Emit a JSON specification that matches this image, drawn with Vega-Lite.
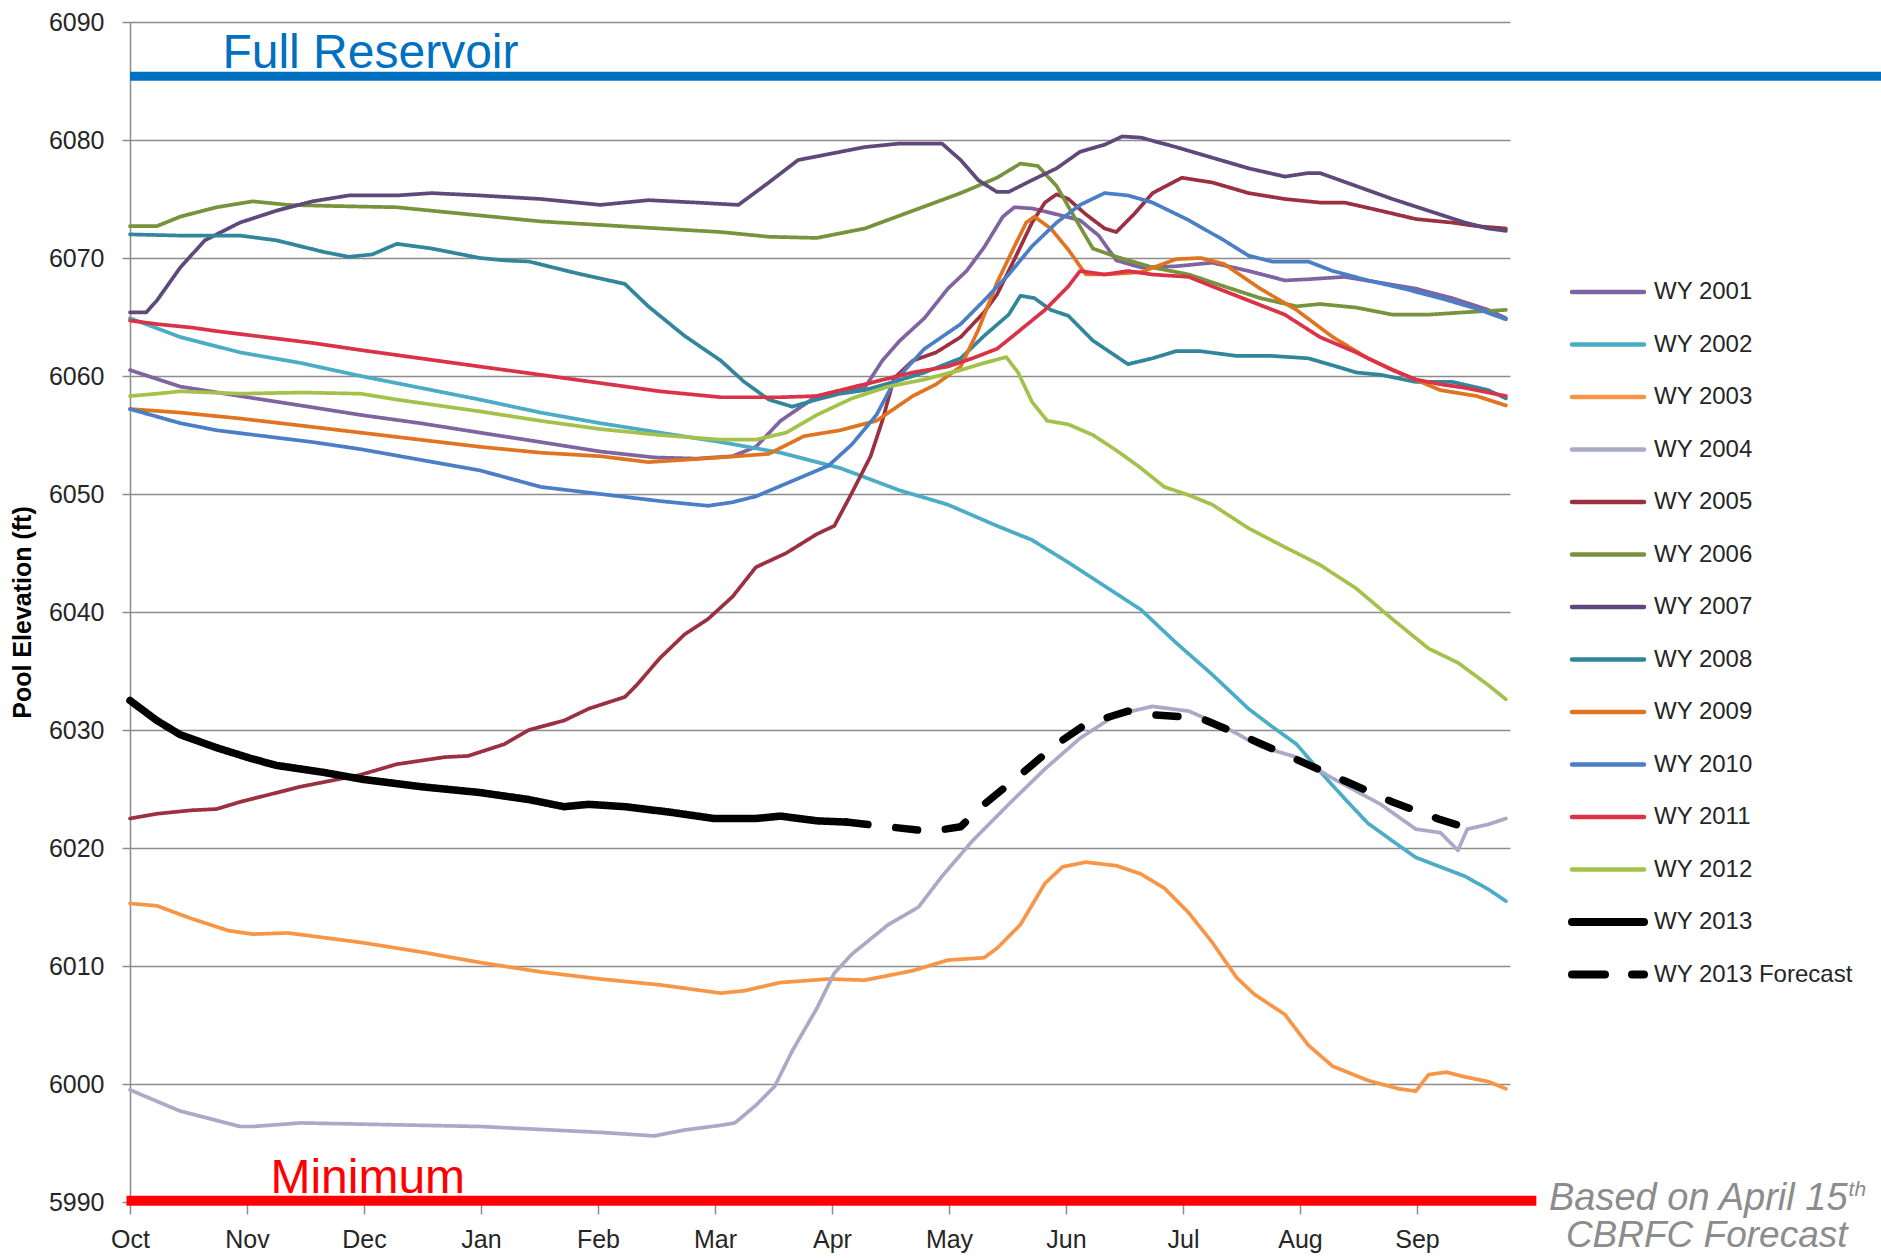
{
  "$schema": "https://vega.github.io/schema/vega-lite/v6.json",
  "width": 1380,
  "height": 1180,
  "autosize": {"type": "none"},
  "padding": {"left": 130, "top": 22, "right": 371, "bottom": 56},
  "background": "white",
  "config": {"view": {"stroke": null}, "font": "Liberation Sans"},
  "layer": [
    {
      "data": {"values": [{"label": "Full Reservoir", "elev": 6085.4}]},
      "mark": {"type": "rule", "color": "#0070C0", "strokeWidth": 9, "clip": false},
      "encoding": {
        "x": {"datum": 0, "type": "quantitative"},
        "x2": {"datum": 15.5},
        "y": {"field": "elev", "type": "quantitative"}
      }
    },
    {
      "data": {"values": [{"label": "Minimum", "elev": 5990.1}]},
      "mark": {"type": "rule", "color": "#FF0000", "strokeWidth": 10, "clip": false},
      "encoding": {
        "x": {"datum": -0.03, "type": "quantitative"},
        "x2": {"datum": 12.02},
        "y": {"field": "elev", "type": "quantitative"}
      }
    },
    {
      "data": {"values": [
    {"series":"WY 2001","month":0,"elev":6060.5},{"series":"WY 2001","month":0.43,"elev":6059.1},{"series":"WY 2001","month":0.94,"elev":6058.3},{"series":"WY 2001","month":1.46,"elev":6057.5},{"series":"WY 2001","month":1.97,"elev":6056.7},{"series":"WY 2001","month":2.48,"elev":6056},{"series":"WY 2001","month":2.99,"elev":6055.2},{"series":"WY 2001","month":3.51,"elev":6054.4},{"series":"WY 2001","month":4.02,"elev":6053.6},{"series":"WY 2001","month":4.48,"elev":6053.1},{"series":"WY 2001","month":4.84,"elev":6053},{"series":"WY 2001","month":5.15,"elev":6053.2},{"series":"WY 2001","month":5.35,"elev":6054},{"series":"WY 2001","month":5.56,"elev":6056.2},{"series":"WY 2001","month":5.87,"elev":6058.3},{"series":"WY 2001","month":6.07,"elev":6058.7},{"series":"WY 2001","month":6.28,"elev":6059},{"series":"WY 2001","month":6.43,"elev":6061.3},{"series":"WY 2001","month":6.58,"elev":6063},{"series":"WY 2001","month":6.79,"elev":6064.9},{"series":"WY 2001","month":6.99,"elev":6067.4},{"series":"WY 2001","month":7.15,"elev":6068.9},{"series":"WY 2001","month":7.3,"elev":6070.9},{"series":"WY 2001","month":7.46,"elev":6073.5},{"series":"WY 2001","month":7.56,"elev":6074.3},{"series":"WY 2001","month":7.71,"elev":6074.2},{"series":"WY 2001","month":7.92,"elev":6073.7},{"series":"WY 2001","month":8.12,"elev":6073.2},{"series":"WY 2001","month":8.28,"elev":6071.9},{"series":"WY 2001","month":8.43,"elev":6069.8},{"series":"WY 2001","month":8.64,"elev":6069.2},{"series":"WY 2001","month":8.94,"elev":6069.3},{"series":"WY 2001","month":9.25,"elev":6069.6},{"series":"WY 2001","month":9.56,"elev":6068.9},{"series":"WY 2001","month":9.87,"elev":6068.1},{"series":"WY 2001","month":10.07,"elev":6068.2},{"series":"WY 2001","month":10.38,"elev":6068.4},{"series":"WY 2001","month":10.69,"elev":6067.9},{"series":"WY 2001","month":10.99,"elev":6067.4},{"series":"WY 2001","month":11.3,"elev":6066.6},{"series":"WY 2001","month":11.61,"elev":6065.6},{"series":"WY 2001","month":11.76,"elev":6064.9},

    {"series":"WY 2002","month":0,"elev":6064.9},{"series":"WY 2002","month":0.43,"elev":6063.3},{"series":"WY 2002","month":0.94,"elev":6062},{"series":"WY 2002","month":1.46,"elev":6061.1},{"series":"WY 2002","month":1.97,"elev":6060},{"series":"WY 2002","month":2.48,"elev":6059},{"series":"WY 2002","month":2.99,"elev":6058},{"series":"WY 2002","month":3.51,"elev":6056.9},{"series":"WY 2002","month":4.02,"elev":6056},{"series":"WY 2002","month":4.53,"elev":6055.2},{"series":"WY 2002","month":5.05,"elev":6054.4},{"series":"WY 2002","month":5.56,"elev":6053.5},{"series":"WY 2002","month":6.07,"elev":6052.2},{"series":"WY 2002","month":6.58,"elev":6050.3},{"series":"WY 2002","month":6.99,"elev":6049.1},{"series":"WY 2002","month":7.41,"elev":6047.3},{"series":"WY 2002","month":7.71,"elev":6046.1},{"series":"WY 2002","month":8.02,"elev":6044.2},{"series":"WY 2002","month":8.33,"elev":6042.2},{"series":"WY 2002","month":8.64,"elev":6040.2},{"series":"WY 2002","month":8.94,"elev":6037.4},{"series":"WY 2002","month":9.25,"elev":6034.7},{"series":"WY 2002","month":9.56,"elev":6031.8},{"series":"WY 2002","month":9.76,"elev":6030.3},{"series":"WY 2002","month":9.97,"elev":6028.8},{"series":"WY 2002","month":10.17,"elev":6026.5},{"series":"WY 2002","month":10.38,"elev":6024.2},{"series":"WY 2002","month":10.58,"elev":6022.1},{"series":"WY 2002","month":10.79,"elev":6020.6},{"series":"WY 2002","month":10.99,"elev":6019.2},{"series":"WY 2002","month":11.2,"elev":6018.4},{"series":"WY 2002","month":11.41,"elev":6017.6},{"series":"WY 2002","month":11.61,"elev":6016.5},{"series":"WY 2002","month":11.76,"elev":6015.5},

    {"series":"WY 2003","month":0,"elev":6015.3},{"series":"WY 2003","month":0.23,"elev":6015.1},{"series":"WY 2003","month":0.53,"elev":6014},{"series":"WY 2003","month":0.84,"elev":6013},{"series":"WY 2003","month":1.05,"elev":6012.7},{"series":"WY 2003","month":1.35,"elev":6012.8},{"series":"WY 2003","month":1.66,"elev":6012.4},{"series":"WY 2003","month":1.97,"elev":6012},{"series":"WY 2003","month":2.48,"elev":6011.2},{"series":"WY 2003","month":2.99,"elev":6010.3},{"series":"WY 2003","month":3.51,"elev":6009.5},{"series":"WY 2003","month":4.02,"elev":6008.9},{"series":"WY 2003","month":4.53,"elev":6008.4},{"series":"WY 2003","month":5.05,"elev":6007.7},{"series":"WY 2003","month":5.25,"elev":6007.9},{"series":"WY 2003","month":5.56,"elev":6008.6},{"series":"WY 2003","month":5.97,"elev":6008.9},{"series":"WY 2003","month":6.28,"elev":6008.8},{"series":"WY 2003","month":6.69,"elev":6009.6},{"series":"WY 2003","month":6.99,"elev":6010.5},{"series":"WY 2003","month":7.3,"elev":6010.7},{"series":"WY 2003","month":7.41,"elev":6011.5},{"series":"WY 2003","month":7.61,"elev":6013.5},{"series":"WY 2003","month":7.82,"elev":6017},{"series":"WY 2003","month":7.97,"elev":6018.4},{"series":"WY 2003","month":8.17,"elev":6018.8},{"series":"WY 2003","month":8.43,"elev":6018.5},{"series":"WY 2003","month":8.64,"elev":6017.8},{"series":"WY 2003","month":8.84,"elev":6016.6},{"series":"WY 2003","month":9.05,"elev":6014.5},{"series":"WY 2003","month":9.25,"elev":6012},{"series":"WY 2003","month":9.46,"elev":6009},{"series":"WY 2003","month":9.61,"elev":6007.6},{"series":"WY 2003","month":9.87,"elev":6005.9},{"series":"WY 2003","month":10.07,"elev":6003.3},{"series":"WY 2003","month":10.28,"elev":6001.5},{"series":"WY 2003","month":10.58,"elev":6000.3},{"series":"WY 2003","month":10.84,"elev":5999.6},{"series":"WY 2003","month":10.99,"elev":5999.4},{"series":"WY 2003","month":11.1,"elev":6000.8},{"series":"WY 2003","month":11.25,"elev":6001},{"series":"WY 2003","month":11.41,"elev":6000.6},{"series":"WY 2003","month":11.61,"elev":6000.2},{"series":"WY 2003","month":11.76,"elev":5999.6},

    {"series":"WY 2004","month":0,"elev":5999.5},{"series":"WY 2004","month":0.43,"elev":5997.7},{"series":"WY 2004","month":0.94,"elev":5996.4},{"series":"WY 2004","month":1.05,"elev":5996.4},{"series":"WY 2004","month":1.46,"elev":5996.7},{"series":"WY 2004","month":1.97,"elev":5996.6},{"series":"WY 2004","month":2.99,"elev":5996.4},{"series":"WY 2004","month":4.02,"elev":5995.9},{"series":"WY 2004","month":4.48,"elev":5995.6},{"series":"WY 2004","month":4.74,"elev":5996.1},{"series":"WY 2004","month":5.05,"elev":5996.5},{"series":"WY 2004","month":5.17,"elev":5996.7},{"series":"WY 2004","month":5.35,"elev":5998.2},{"series":"WY 2004","month":5.51,"elev":5999.8},{"series":"WY 2004","month":5.66,"elev":6002.8},{"series":"WY 2004","month":5.87,"elev":6006.4},{"series":"WY 2004","month":6.02,"elev":6009.4},{"series":"WY 2004","month":6.17,"elev":6011},{"series":"WY 2004","month":6.48,"elev":6013.5},{"series":"WY 2004","month":6.74,"elev":6015},{"series":"WY 2004","month":6.94,"elev":6017.6},{"series":"WY 2004","month":7.2,"elev":6020.6},{"series":"WY 2004","month":7.51,"elev":6023.7},{"series":"WY 2004","month":7.82,"elev":6026.7},{"series":"WY 2004","month":8.12,"elev":6029.3},{"series":"WY 2004","month":8.43,"elev":6031.3},{"series":"WY 2004","month":8.74,"elev":6032},{"series":"WY 2004","month":9.05,"elev":6031.6},{"series":"WY 2004","month":9.35,"elev":6030.3},{"series":"WY 2004","month":9.66,"elev":6028.6},{"series":"WY 2004","month":9.97,"elev":6027.7},{"series":"WY 2004","month":10.28,"elev":6025.9},{"series":"WY 2004","month":10.69,"elev":6023.7},{"series":"WY 2004","month":10.99,"elev":6021.6},{"series":"WY 2004","month":11.2,"elev":6021.3},{"series":"WY 2004","month":11.35,"elev":6019.8},{"series":"WY 2004","month":11.43,"elev":6021.6},{"series":"WY 2004","month":11.61,"elev":6022},{"series":"WY 2004","month":11.76,"elev":6022.5},

    {"series":"WY 2005","month":0,"elev":6022.5},{"series":"WY 2005","month":0.23,"elev":6022.9},{"series":"WY 2005","month":0.53,"elev":6023.2},{"series":"WY 2005","month":0.74,"elev":6023.3},{"series":"WY 2005","month":0.94,"elev":6023.9},{"series":"WY 2005","month":1.46,"elev":6025.2},{"series":"WY 2005","month":1.97,"elev":6026.2},{"series":"WY 2005","month":2.28,"elev":6027.1},{"series":"WY 2005","month":2.69,"elev":6027.7},{"series":"WY 2005","month":2.89,"elev":6027.8},{"series":"WY 2005","month":3.2,"elev":6028.8},{"series":"WY 2005","month":3.41,"elev":6030},{"series":"WY 2005","month":3.71,"elev":6030.8},{"series":"WY 2005","month":3.92,"elev":6031.8},{"series":"WY 2005","month":4.23,"elev":6032.8},{"series":"WY 2005","month":4.33,"elev":6033.8},{"series":"WY 2005","month":4.53,"elev":6036.1},{"series":"WY 2005","month":4.74,"elev":6038.1},{"series":"WY 2005","month":4.94,"elev":6039.4},{"series":"WY 2005","month":5.15,"elev":6041.3},{"series":"WY 2005","month":5.35,"elev":6043.8},{"series":"WY 2005","month":5.61,"elev":6045},{"series":"WY 2005","month":5.87,"elev":6046.6},{"series":"WY 2005","month":6.02,"elev":6047.3},{"series":"WY 2005","month":6.17,"elev":6050.1},{"series":"WY 2005","month":6.33,"elev":6053.2},{"series":"WY 2005","month":6.43,"elev":6056.2},{"series":"WY 2005","month":6.53,"elev":6059.8},{"series":"WY 2005","month":6.69,"elev":6061.3},{"series":"WY 2005","month":6.89,"elev":6062},{"series":"WY 2005","month":7.1,"elev":6063.3},{"series":"WY 2005","month":7.3,"elev":6065.4},{"series":"WY 2005","month":7.41,"elev":6066.9},{"series":"WY 2005","month":7.56,"elev":6069.9},{"series":"WY 2005","month":7.71,"elev":6073},{"series":"WY 2005","month":7.82,"elev":6074.7},{"series":"WY 2005","month":7.92,"elev":6075.4},{"series":"WY 2005","month":8.02,"elev":6075},{"series":"WY 2005","month":8.17,"elev":6073.7},{"series":"WY 2005","month":8.33,"elev":6072.5},{"series":"WY 2005","month":8.43,"elev":6072.2},{"series":"WY 2005","month":8.58,"elev":6073.7},{"series":"WY 2005","month":8.74,"elev":6075.5},{"series":"WY 2005","month":8.99,"elev":6076.8},{"series":"WY 2005","month":9.25,"elev":6076.4},{"series":"WY 2005","month":9.56,"elev":6075.5},{"series":"WY 2005","month":9.87,"elev":6075},{"series":"WY 2005","month":10.17,"elev":6074.7},{"series":"WY 2005","month":10.38,"elev":6074.7},{"series":"WY 2005","month":10.69,"elev":6074},{"series":"WY 2005","month":10.99,"elev":6073.3},{"series":"WY 2005","month":11.3,"elev":6073},{"series":"WY 2005","month":11.51,"elev":6072.7},{"series":"WY 2005","month":11.76,"elev":6072.5},

    {"series":"WY 2006","month":0,"elev":6072.7},{"series":"WY 2006","month":0.23,"elev":6072.7},{"series":"WY 2006","month":0.43,"elev":6073.5},{"series":"WY 2006","month":0.74,"elev":6074.3},{"series":"WY 2006","month":1.05,"elev":6074.8},{"series":"WY 2006","month":1.35,"elev":6074.5},{"series":"WY 2006","month":1.76,"elev":6074.4},{"series":"WY 2006","month":2.28,"elev":6074.3},{"series":"WY 2006","month":2.79,"elev":6073.8},{"series":"WY 2006","month":3.51,"elev":6073.1},{"series":"WY 2006","month":4.02,"elev":6072.8},{"series":"WY 2006","month":4.53,"elev":6072.5},{"series":"WY 2006","month":5.05,"elev":6072.2},{"series":"WY 2006","month":5.46,"elev":6071.8},{"series":"WY 2006","month":5.87,"elev":6071.7},{"series":"WY 2006","month":6.28,"elev":6072.5},{"series":"WY 2006","month":6.69,"elev":6074},{"series":"WY 2006","month":7.1,"elev":6075.5},{"series":"WY 2006","month":7.41,"elev":6076.8},{"series":"WY 2006","month":7.61,"elev":6078},{"series":"WY 2006","month":7.76,"elev":6077.8},{"series":"WY 2006","month":7.92,"elev":6076.1},{"series":"WY 2006","month":8.07,"elev":6073.5},{"series":"WY 2006","month":8.23,"elev":6070.8},{"series":"WY 2006","month":8.43,"elev":6070.1},{"series":"WY 2006","month":8.74,"elev":6069.2},{"series":"WY 2006","month":9.05,"elev":6068.6},{"series":"WY 2006","month":9.35,"elev":6067.6},{"series":"WY 2006","month":9.66,"elev":6066.6},{"series":"WY 2006","month":9.97,"elev":6065.9},{"series":"WY 2006","month":10.17,"elev":6066.1},{"series":"WY 2006","month":10.48,"elev":6065.8},{"series":"WY 2006","month":10.79,"elev":6065.2},{"series":"WY 2006","month":11.1,"elev":6065.2},{"series":"WY 2006","month":11.41,"elev":6065.4},{"series":"WY 2006","month":11.76,"elev":6065.6},

    {"series":"WY 2007","month":0,"elev":6065.4},{"series":"WY 2007","month":0.14,"elev":6065.4},{"series":"WY 2007","month":0.23,"elev":6066.4},{"series":"WY 2007","month":0.43,"elev":6069.2},{"series":"WY 2007","month":0.64,"elev":6071.5},{"series":"WY 2007","month":0.94,"elev":6073},{"series":"WY 2007","month":1.25,"elev":6074},{"series":"WY 2007","month":1.56,"elev":6074.8},{"series":"WY 2007","month":1.87,"elev":6075.3},{"series":"WY 2007","month":2.28,"elev":6075.3},{"series":"WY 2007","month":2.58,"elev":6075.5},{"series":"WY 2007","month":2.99,"elev":6075.3},{"series":"WY 2007","month":3.51,"elev":6075},{"series":"WY 2007","month":4.02,"elev":6074.5},{"series":"WY 2007","month":4.43,"elev":6074.9},{"series":"WY 2007","month":4.84,"elev":6074.7},{"series":"WY 2007","month":5.2,"elev":6074.5},{"series":"WY 2007","month":5.46,"elev":6076.4},{"series":"WY 2007","month":5.71,"elev":6078.3},{"series":"WY 2007","month":5.97,"elev":6078.8},{"series":"WY 2007","month":6.28,"elev":6079.4},{"series":"WY 2007","month":6.58,"elev":6079.7},{"series":"WY 2007","month":6.94,"elev":6079.7},{"series":"WY 2007","month":7.1,"elev":6078.3},{"series":"WY 2007","month":7.25,"elev":6076.6},{"series":"WY 2007","month":7.41,"elev":6075.6},{"series":"WY 2007","month":7.51,"elev":6075.6},{"series":"WY 2007","month":7.71,"elev":6076.6},{"series":"WY 2007","month":7.92,"elev":6077.6},{"series":"WY 2007","month":8.12,"elev":6079},{"series":"WY 2007","month":8.33,"elev":6079.6},{"series":"WY 2007","month":8.48,"elev":6080.3},{"series":"WY 2007","month":8.64,"elev":6080.2},{"series":"WY 2007","month":8.94,"elev":6079.4},{"series":"WY 2007","month":9.25,"elev":6078.5},{"series":"WY 2007","month":9.56,"elev":6077.6},{"series":"WY 2007","month":9.87,"elev":6076.9},{"series":"WY 2007","month":10.07,"elev":6077.2},{"series":"WY 2007","month":10.17,"elev":6077.2},{"series":"WY 2007","month":10.48,"elev":6076.1},{"series":"WY 2007","month":10.79,"elev":6075},{"series":"WY 2007","month":11.1,"elev":6074},{"series":"WY 2007","month":11.41,"elev":6073},{"series":"WY 2007","month":11.61,"elev":6072.5},{"series":"WY 2007","month":11.76,"elev":6072.3},

    {"series":"WY 2008","month":0,"elev":6072},{"series":"WY 2008","month":0.43,"elev":6071.9},{"series":"WY 2008","month":0.94,"elev":6071.9},{"series":"WY 2008","month":1.25,"elev":6071.5},{"series":"WY 2008","month":1.66,"elev":6070.5},{"series":"WY 2008","month":1.87,"elev":6070.1},{"series":"WY 2008","month":2.07,"elev":6070.3},{"series":"WY 2008","month":2.28,"elev":6071.2},{"series":"WY 2008","month":2.58,"elev":6070.8},{"series":"WY 2008","month":2.99,"elev":6070},{"series":"WY 2008","month":3.2,"elev":6069.8},{"series":"WY 2008","month":3.41,"elev":6069.7},{"series":"WY 2008","month":3.82,"elev":6068.7},{"series":"WY 2008","month":4.23,"elev":6067.8},{"series":"WY 2008","month":4.43,"elev":6065.9},{"series":"WY 2008","month":4.74,"elev":6063.4},{"series":"WY 2008","month":5.05,"elev":6061.3},{"series":"WY 2008","month":5.25,"elev":6059.5},{"series":"WY 2008","month":5.46,"elev":6058},{"series":"WY 2008","month":5.66,"elev":6057.4},{"series":"WY 2008","month":5.87,"elev":6058},{"series":"WY 2008","month":6.07,"elev":6058.5},{"series":"WY 2008","month":6.28,"elev":6058.8},{"series":"WY 2008","month":6.53,"elev":6059.5},{"series":"WY 2008","month":6.79,"elev":6060.3},{"series":"WY 2008","month":7.1,"elev":6061.5},{"series":"WY 2008","month":7.3,"elev":6063.4},{"series":"WY 2008","month":7.51,"elev":6065.2},{"series":"WY 2008","month":7.61,"elev":6066.8},{"series":"WY 2008","month":7.73,"elev":6066.6},{"series":"WY 2008","month":7.87,"elev":6065.6},{"series":"WY 2008","month":8.02,"elev":6065.1},{"series":"WY 2008","month":8.23,"elev":6063},{"series":"WY 2008","month":8.53,"elev":6061},{"series":"WY 2008","month":8.74,"elev":6061.5},{"series":"WY 2008","month":8.94,"elev":6062.1},{"series":"WY 2008","month":9.15,"elev":6062.1},{"series":"WY 2008","month":9.46,"elev":6061.7},{"series":"WY 2008","month":9.76,"elev":6061.7},{"series":"WY 2008","month":10.07,"elev":6061.5},{"series":"WY 2008","month":10.28,"elev":6060.9},{"series":"WY 2008","month":10.48,"elev":6060.3},{"series":"WY 2008","month":10.69,"elev":6060.1},{"series":"WY 2008","month":10.99,"elev":6059.5},{"series":"WY 2008","month":11.3,"elev":6059.5},{"series":"WY 2008","month":11.61,"elev":6058.8},{"series":"WY 2008","month":11.76,"elev":6058.1},

    {"series":"WY 2009","month":0,"elev":6057.2},{"series":"WY 2009","month":0.43,"elev":6056.9},{"series":"WY 2009","month":0.94,"elev":6056.4},{"series":"WY 2009","month":1.46,"elev":6055.8},{"series":"WY 2009","month":1.97,"elev":6055.2},{"series":"WY 2009","month":2.48,"elev":6054.6},{"series":"WY 2009","month":2.99,"elev":6054},{"series":"WY 2009","month":3.51,"elev":6053.5},{"series":"WY 2009","month":4.02,"elev":6053.2},{"series":"WY 2009","month":4.43,"elev":6052.7},{"series":"WY 2009","month":4.74,"elev":6052.9},{"series":"WY 2009","month":5.05,"elev":6053.1},{"series":"WY 2009","month":5.46,"elev":6053.4},{"series":"WY 2009","month":5.76,"elev":6054.9},{"series":"WY 2009","month":6.07,"elev":6055.4},{"series":"WY 2009","month":6.38,"elev":6056.2},{"series":"WY 2009","month":6.69,"elev":6058.3},{"series":"WY 2009","month":6.89,"elev":6059.3},{"series":"WY 2009","month":7.1,"elev":6060.8},{"series":"WY 2009","month":7.25,"elev":6063.9},{"series":"WY 2009","month":7.41,"elev":6067.9},{"series":"WY 2009","month":7.56,"elev":6071},{"series":"WY 2009","month":7.66,"elev":6073},{"series":"WY 2009","month":7.73,"elev":6073.5},{"series":"WY 2009","month":7.87,"elev":6072.5},{"series":"WY 2009","month":8.02,"elev":6070.7},{"series":"WY 2009","month":8.17,"elev":6068.6},{"series":"WY 2009","month":8.33,"elev":6068.6},{"series":"WY 2009","month":8.64,"elev":6068.8},{"series":"WY 2009","month":8.94,"elev":6069.9},{"series":"WY 2009","month":9.15,"elev":6070},{"series":"WY 2009","month":9.35,"elev":6069.5},{"series":"WY 2009","month":9.66,"elev":6067.4},{"series":"WY 2009","month":9.97,"elev":6065.6},{"series":"WY 2009","month":10.28,"elev":6063.3},{"series":"WY 2009","month":10.58,"elev":6061.5},{"series":"WY 2009","month":10.89,"elev":6060.1},{"series":"WY 2009","month":11.2,"elev":6058.8},{"series":"WY 2009","month":11.51,"elev":6058.3},{"series":"WY 2009","month":11.76,"elev":6057.5},

    {"series":"WY 2010","month":0,"elev":6057.2},{"series":"WY 2010","month":0.43,"elev":6056},{"series":"WY 2010","month":0.74,"elev":6055.4},{"series":"WY 2010","month":1.15,"elev":6054.9},{"series":"WY 2010","month":1.56,"elev":6054.4},{"series":"WY 2010","month":1.97,"elev":6053.8},{"series":"WY 2010","month":2.48,"elev":6052.9},{"series":"WY 2010","month":2.99,"elev":6052},{"series":"WY 2010","month":3.51,"elev":6050.6},{"series":"WY 2010","month":4.02,"elev":6050},{"series":"WY 2010","month":4.53,"elev":6049.4},{"series":"WY 2010","month":4.94,"elev":6049},{"series":"WY 2010","month":5.15,"elev":6049.3},{"series":"WY 2010","month":5.35,"elev":6049.8},{"series":"WY 2010","month":5.66,"elev":6051.1},{"series":"WY 2010","month":5.97,"elev":6052.4},{"series":"WY 2010","month":6.17,"elev":6054.2},{"series":"WY 2010","month":6.38,"elev":6056.7},{"series":"WY 2010","month":6.53,"elev":6059.5},{"series":"WY 2010","month":6.79,"elev":6062.3},{"series":"WY 2010","month":7.1,"elev":6064.4},{"series":"WY 2010","month":7.3,"elev":6066.4},{"series":"WY 2010","month":7.51,"elev":6068.6},{"series":"WY 2010","month":7.71,"elev":6071},{"series":"WY 2010","month":7.92,"elev":6073},{"series":"WY 2010","month":8.12,"elev":6074.5},{"series":"WY 2010","month":8.33,"elev":6075.5},{"series":"WY 2010","month":8.53,"elev":6075.3},{"series":"WY 2010","month":8.74,"elev":6074.7},{"series":"WY 2010","month":9.05,"elev":6073.2},{"series":"WY 2010","month":9.35,"elev":6071.5},{"series":"WY 2010","month":9.56,"elev":6070.2},{"series":"WY 2010","month":9.76,"elev":6069.7},{"series":"WY 2010","month":10.07,"elev":6069.7},{"series":"WY 2010","month":10.28,"elev":6068.9},{"series":"WY 2010","month":10.58,"elev":6068.1},{"series":"WY 2010","month":10.89,"elev":6067.4},{"series":"WY 2010","month":11.2,"elev":6066.6},{"series":"WY 2010","month":11.51,"elev":6065.7},{"series":"WY 2010","month":11.76,"elev":6064.8},

    {"series":"WY 2011","month":0,"elev":6064.7},{"series":"WY 2011","month":0.23,"elev":6064.4},{"series":"WY 2011","month":0.53,"elev":6064.1},{"series":"WY 2011","month":0.74,"elev":6063.8},{"series":"WY 2011","month":1.15,"elev":6063.3},{"series":"WY 2011","month":1.56,"elev":6062.8},{"series":"WY 2011","month":1.97,"elev":6062.2},{"series":"WY 2011","month":2.48,"elev":6061.5},{"series":"WY 2011","month":2.99,"elev":6060.8},{"series":"WY 2011","month":3.51,"elev":6060.1},{"series":"WY 2011","month":4.02,"elev":6059.4},{"series":"WY 2011","month":4.53,"elev":6058.7},{"series":"WY 2011","month":5.05,"elev":6058.2},{"series":"WY 2011","month":5.56,"elev":6058.2},{"series":"WY 2011","month":5.87,"elev":6058.3},{"series":"WY 2011","month":6.28,"elev":6059.3},{"series":"WY 2011","month":6.69,"elev":6060.3},{"series":"WY 2011","month":6.99,"elev":6060.8},{"series":"WY 2011","month":7.2,"elev":6061.5},{"series":"WY 2011","month":7.41,"elev":6062.3},{"series":"WY 2011","month":7.61,"elev":6063.9},{"series":"WY 2011","month":7.82,"elev":6065.6},{"series":"WY 2011","month":8.02,"elev":6067.6},{"series":"WY 2011","month":8.12,"elev":6068.9},{"series":"WY 2011","month":8.33,"elev":6068.6},{"series":"WY 2011","month":8.53,"elev":6068.9},{"series":"WY 2011","month":8.74,"elev":6068.6},{"series":"WY 2011","month":9.05,"elev":6068.4},{"series":"WY 2011","month":9.25,"elev":6067.6},{"series":"WY 2011","month":9.56,"elev":6066.4},{"series":"WY 2011","month":9.87,"elev":6065.2},{"series":"WY 2011","month":10.17,"elev":6063.3},{"series":"WY 2011","month":10.48,"elev":6062},{"series":"WY 2011","month":10.79,"elev":6060.5},{"series":"WY 2011","month":10.99,"elev":6059.7},{"series":"WY 2011","month":11.2,"elev":6059.3},{"series":"WY 2011","month":11.41,"elev":6059},{"series":"WY 2011","month":11.76,"elev":6058.3},

    {"series":"WY 2012","month":0,"elev":6058.3},{"series":"WY 2012","month":0.23,"elev":6058.5},{"series":"WY 2012","month":0.43,"elev":6058.7},{"series":"WY 2012","month":0.94,"elev":6058.5},{"series":"WY 2012","month":1.46,"elev":6058.6},{"series":"WY 2012","month":1.97,"elev":6058.5},{"series":"WY 2012","month":2.28,"elev":6058},{"series":"WY 2012","month":2.99,"elev":6057},{"series":"WY 2012","month":3.51,"elev":6056.2},{"series":"WY 2012","month":4.02,"elev":6055.5},{"series":"WY 2012","month":4.53,"elev":6055},{"series":"WY 2012","month":5.05,"elev":6054.6},{"series":"WY 2012","month":5.35,"elev":6054.6},{"series":"WY 2012","month":5.61,"elev":6055.2},{"series":"WY 2012","month":5.87,"elev":6056.7},{"series":"WY 2012","month":6.17,"elev":6058.1},{"series":"WY 2012","month":6.48,"elev":6059.1},{"series":"WY 2012","month":6.79,"elev":6059.7},{"series":"WY 2012","month":7.1,"elev":6060.5},{"series":"WY 2012","month":7.3,"elev":6061.1},{"series":"WY 2012","month":7.49,"elev":6061.6},{"series":"WY 2012","month":7.59,"elev":6060.3},{"series":"WY 2012","month":7.71,"elev":6057.8},{"series":"WY 2012","month":7.84,"elev":6056.2},{"series":"WY 2012","month":8.02,"elev":6055.9},{"series":"WY 2012","month":8.23,"elev":6055},{"series":"WY 2012","month":8.43,"elev":6053.7},{"series":"WY 2012","month":8.64,"elev":6052.2},{"series":"WY 2012","month":8.84,"elev":6050.6},{"series":"WY 2012","month":9.05,"elev":6049.9},{"series":"WY 2012","month":9.25,"elev":6049.1},{"series":"WY 2012","month":9.56,"elev":6047.1},{"series":"WY 2012","month":9.87,"elev":6045.5},{"series":"WY 2012","month":10.17,"elev":6044},{"series":"WY 2012","month":10.48,"elev":6042},{"series":"WY 2012","month":10.79,"elev":6039.4},{"series":"WY 2012","month":11.1,"elev":6036.9},{"series":"WY 2012","month":11.35,"elev":6035.7},{"series":"WY 2012","month":11.61,"elev":6033.8},{"series":"WY 2012","month":11.76,"elev":6032.6},

    {"series":"WY 2013","month":0,"elev":6032.5},{"series":"WY 2013","month":0.23,"elev":6030.8},{"series":"WY 2013","month":0.43,"elev":6029.6},{"series":"WY 2013","month":0.74,"elev":6028.5},{"series":"WY 2013","month":1.03,"elev":6027.6},{"series":"WY 2013","month":1.25,"elev":6027},{"series":"WY 2013","month":1.66,"elev":6026.4},{"series":"WY 2013","month":2.0,"elev":6025.8},{"series":"WY 2013","month":2.48,"elev":6025.2},{"series":"WY 2013","month":2.99,"elev":6024.7},{"series":"WY 2013","month":3.41,"elev":6024.1},{"series":"WY 2013","month":3.71,"elev":6023.5},{"series":"WY 2013","month":3.92,"elev":6023.7},{"series":"WY 2013","month":4.23,"elev":6023.5},{"series":"WY 2013","month":4.64,"elev":6023},{"series":"WY 2013","month":4.99,"elev":6022.5},{"series":"WY 2013","month":5.35,"elev":6022.5},{"series":"WY 2013","month":5.56,"elev":6022.7},{"series":"WY 2013","month":5.87,"elev":6022.3},{"series":"WY 2013","month":6.12,"elev":6022.2},

    {"series":"WY 2013 Forecast","month":6.12,"elev":6022.2},{"series":"WY 2013 Forecast","month":6.48,"elev":6021.8},{"series":"WY 2013 Forecast","month":6.84,"elev":6021.4},{"series":"WY 2013 Forecast","month":7.1,"elev":6021.8},{"series":"WY 2013 Forecast","month":7.3,"elev":6023.7},{"series":"WY 2013 Forecast","month":7.61,"elev":6026.2},{"series":"WY 2013 Forecast","month":7.92,"elev":6028.8},{"series":"WY 2013 Forecast","month":8.17,"elev":6030.5},{"series":"WY 2013 Forecast","month":8.53,"elev":6031.6},{"series":"WY 2013 Forecast","month":8.74,"elev":6031.3},{"series":"WY 2013 Forecast","month":9.15,"elev":6031},{"series":"WY 2013 Forecast","month":9.56,"elev":6029.3},{"series":"WY 2013 Forecast","month":9.97,"elev":6027.5},{"series":"WY 2013 Forecast","month":10.38,"elev":6025.7},{"series":"WY 2013 Forecast","month":10.79,"elev":6023.9},{"series":"WY 2013 Forecast","month":11.2,"elev":6022.4},{"series":"WY 2013 Forecast","month":11.53,"elev":6021.4}
      ]},
      "mark": {"type": "line", "strokeJoin": "round", "strokeCap": "round"},
      "encoding": {
        "x": {
          "field": "month", "type": "quantitative",
          "scale": {"domain": [0, 11.795], "nice": false, "zero": false},
          "axis": {
            "title": null, "values": [0,1,2,3,4,5,6,7,8,9,10,11],
            "labelExpr": "['Oct','Nov','Dec','Jan','Feb','Mar','Apr','May','Jun','Jul','Aug','Sep'][datum.value]",
            "labelFlush": false, "labelOverlap": false,
            "grid": false, "domainColor": "#8C8C8C", "domainWidth": 1.5,
            "tickColor": "#8C8C8C", "tickWidth": 1.5, "tickSize": 12,
            "labelFontSize": 25, "labelColor": "#262626", "labelPadding": 13,
            "labelFont": "Liberation Sans"
          }
        },
        "y": {
          "field": "elev", "type": "quantitative",
          "scale": {"domain": [5990, 6090], "nice": false, "zero": false},
          "axis": {
            "title": "Pool Elevation (ft)",
            "values": [5990,6000,6010,6020,6030,6040,6050,6060,6070,6080,6090],
            "format": "d",
            "grid": true, "gridColor": "#8C8C8C", "gridWidth": 1.5,
            "domainColor": "#8C8C8C", "domainWidth": 1.5,
            "tickColor": "#8C8C8C", "tickWidth": 1.5, "tickSize": 8,
            "labelFontSize": 25, "labelColor": "#262626", "labelPadding": 18,
            "labelFont": "Liberation Sans",
            "titleFont": "Liberation Sans", "titleFontSize": 25, "titleFontWeight": "bold",
            "titleColor": "#000000", "titleX": -108, "titleY": 590,
            "titleAngle": -90, "titleAlign": "center", "titleBaseline": "middle"
          }
        },
        "color": {
          "field": "series", "type": "nominal",
          "scale": {
            "domain": ["WY 2001","WY 2002","WY 2003","WY 2004","WY 2005","WY 2006","WY 2007","WY 2008","WY 2009","WY 2010","WY 2011","WY 2012","WY 2013","WY 2013 Forecast"],
            "range": ["#8064A2","#4BACC6","#F79646","#A9AAC6","#9B3040","#77933C","#5F497A","#31869B","#E07420","#4A7EC7","#DA3347","#A4C14C","#000000","#000000"]
          },
          "legend": {
            "title": null, "orient": "none", "legendX": 1442, "legendY": 258,
            "padding": 0, "offset": 0,
            "symbolType": "M-1,0H5", "symbolSize": 576, "symbolStrokeWidth": 4.5,
            "labelOffset": 58, "labelFontSize": 24, "labelColor": "#262626",
            "labelFont": "Liberation Sans", "labelLimit": 400, "rowPadding": 28.5,
            "encode": {
              "symbols": {
                "update": {
                  "strokeWidth": {"signal": "indexof(['WY 2013','WY 2013 Forecast'], datum.value) >= 0 ? 8 : 4.5"},
                  "strokeDash": {"signal": "datum.value === 'WY 2013 Forecast' ? [33,27] : [1,0]"},
                  "strokeCap": {"value": "round"},
                  "strokeJoin": {"value": "round"}
                }
              }
            }
          }
        },
        "strokeWidth": {
          "condition": {"test": "datum.series === 'WY 2013' || datum.series === 'WY 2013 Forecast'", "value": 7.5},
          "value": 3.7
        },
        "strokeDash": {
          "condition": {"test": "datum.series === 'WY 2013 Forecast'", "value": [22, 28]},
          "value": [1, 0]
        }
      }
    },
    {
      "data": {"values": [{"label": "Full Reservoir"}]},
      "mark": {"type": "text", "align": "left", "baseline": "alphabetic", "dy": -8, "fontSize": 48, "font": "Liberation Sans", "color": "#0070C0"},
      "encoding": {"x": {"datum": 0.79, "type": "quantitative"}, "y": {"datum": 6085.4, "type": "quantitative"}, "text": {"field": "label"}}
    },
    {
      "data": {"values": [{"label": "Minimum"}]},
      "mark": {"type": "text", "align": "left", "baseline": "alphabetic", "dy": -8, "fontSize": 48, "font": "Liberation Sans", "color": "#FF0000"},
      "encoding": {"x": {"datum": 1.2, "type": "quantitative"}, "y": {"datum": 5990.1, "type": "quantitative"}, "text": {"field": "label"}}
    },
    {
      "data": {"values": [{"line1": "Based on April 15", "sup": "th", "line2": "CBRFC Forecast"}]},
      "layer": [
        {
          "mark": {"type": "text", "align": "right", "baseline": "alphabetic", "dy": 8, "fontSize": 38, "fontStyle": "italic", "font": "Liberation Sans", "color": "#8C8C8C"},
          "encoding": {"x": {"datum": 14.68, "type": "quantitative"}, "y": {"datum": 5990, "type": "quantitative"}, "text": {"field": "line1"}}
        },
        {
          "mark": {"type": "text", "align": "left", "baseline": "alphabetic", "dy": -6, "dx": 1, "fontSize": 21, "fontStyle": "italic", "font": "Liberation Sans", "color": "#8C8C8C"},
          "encoding": {"x": {"datum": 14.68, "type": "quantitative"}, "y": {"datum": 5990, "type": "quantitative"}, "text": {"field": "sup"}}
        },
        {
          "mark": {"type": "text", "align": "right", "baseline": "alphabetic", "dy": 45, "fontSize": 37, "fontStyle": "italic", "font": "Liberation Sans", "color": "#8C8C8C"},
          "encoding": {"x": {"datum": 14.68, "type": "quantitative"}, "y": {"datum": 5990, "type": "quantitative"}, "text": {"field": "line2"}}
        }
      ]
    }
  ]
}
